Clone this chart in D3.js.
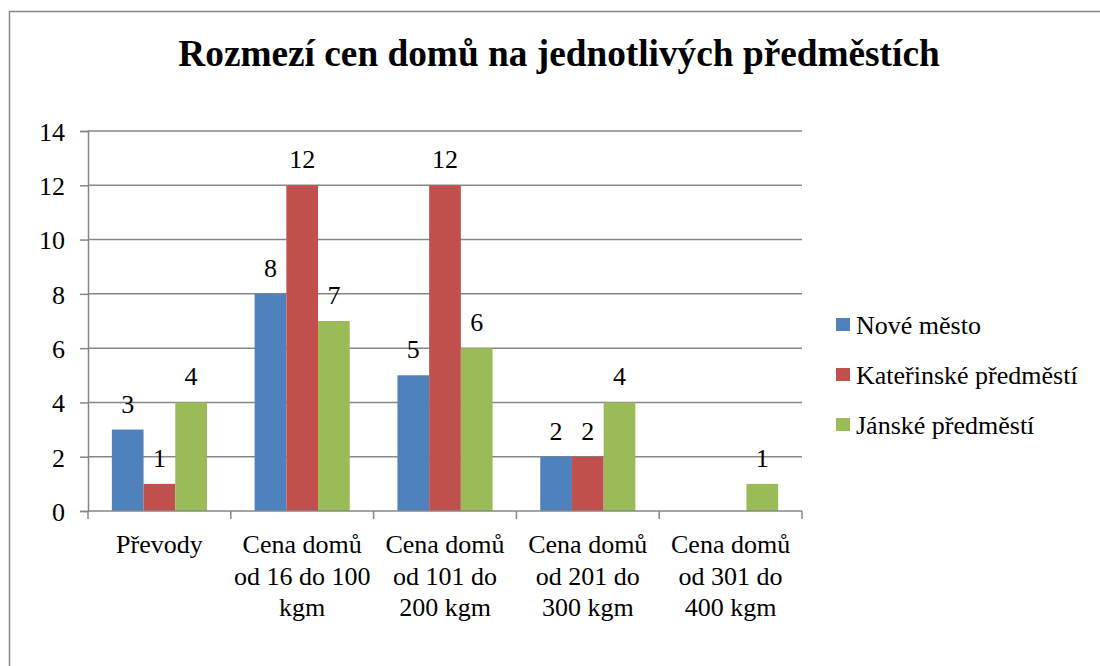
<!DOCTYPE html>
<html>
<head>
  <meta charset="utf-8">
  <script src="https://cdn.jsdelivr.net/npm/d3@7"></script>
  <style>
    html, body { margin:0; padding:0; background:#fff; }
    svg { display:block; }
    text { font-family: "Liberation Serif", "Times New Roman", serif; fill:#000; }
  </style>
  <title>Rozmezí cen domů</title>
</head>
<body>
<div id="chart"></div>
<script>
    // data
    var categories = [
        ["Převody"],
        ["Cena domů", "od 16 do 100", "kgm"],
        ["Cena domů", "od 101 do", "200 kgm"],
        ["Cena domů", "od 201 do", "300 kgm"],
        ["Cena domů", "od 301 do", "400 kgm"]
    ];
    var seriesNames = ["Nové město", "Kateřinské předměstí", "Jánské předměstí"];
    var seriesColors = ["#4F81BD", "#C0504D", "#9BBB59"];
    var noveMesto = [3, 8, 5, 2, null];
    var katerinske = [1, 12, 12, 2, null];
    var janske = [4, 7, 6, 4, 1];
    var yTicks = [0, 2, 4, 6, 8, 10, 12, 14];

    var series = [noveMesto, katerinske, janske];

    var W = 1100, H = 666;
    var svg = d3.select("#chart").append("svg").attr("width", W).attr("height", H);

    // chart border (runs off right and bottom like the original)
    svg.append("rect")
        .attr("x", 9.5).attr("y", 11.5)
        .attr("width", 1100).attr("height", 700)
        .style("fill", "none").style("stroke", "#868686").style("stroke-width", 1.5);

    svg.append("text")
        .attr("x", 559).attr("y", 66)
        .attr("text-anchor", "middle")
        .style("font-weight", "bold").style("font-size", "37.3px")
        .text("Rozmezí cen domů na jednotlivých předměstích");

    var plotLeft = 88, plotRight = 802, plotTop = 131, plotBottom = 511;

    var x = d3.scaleBand().domain(d3.range(categories.length)).range([plotLeft, plotRight]);
    var y = d3.scaleLinear().domain([0, 14]).range([plotBottom, plotTop]);
    var bw = x.bandwidth() * 0.222;

    // gridlines
    svg.append("g").selectAll("line").data(yTicks.slice(1)).enter().append("line")
        .attr("x1", plotLeft).attr("x2", plotRight)
        .attr("y1", function(d){ return y(d); }).attr("y2", function(d){ return y(d); })
        .style("stroke", "#868686").style("stroke-width", 1.5);

    // y axis
    var yAxis = svg.append("g").attr("transform", "translate(" + plotLeft + ",0)")
        .call(d3.axisLeft(y).tickValues(yTicks).tickSize(8).tickPadding(15));
    yAxis.select(".domain").style("stroke", "#868686").style("stroke-width", 1.5);
    yAxis.selectAll(".tick line").style("stroke", "#868686").style("stroke-width", 1.5);
    yAxis.selectAll("text").style("font-size", "26px").style("font-family", "Liberation Serif").attr("dy", "0.36em");

    // bars + data labels
    series.forEach(function(vals, si) {
        var g = svg.append("g");
        var data = vals.map(function(v, i){ return {i: i, v: v}; }).filter(function(d){ return d.v !== null; });
        g.selectAll("rect").data(data).enter().append("rect")
            .attr("x", function(d){ return x(d.i) + (x.bandwidth() - 3 * bw) / 2 + si * bw; })
            .attr("y", function(d){ return y(d.v); })
            .attr("width", bw)
            .attr("height", function(d){ return y(0) - y(d.v); })
            .style("fill", seriesColors[si]);
        g.selectAll("text").data(data).enter().append("text")
            .attr("x", function(d){ return x(d.i) + (x.bandwidth() - 3 * bw) / 2 + si * bw + bw / 2; })
            .attr("y", function(d){ return y(d.v) - 17; })
            .attr("text-anchor", "middle")
            .style("font-size", "26px")
            .text(function(d){ return d.v; });
    });

    // x axis
    svg.append("line")
        .attr("x1", plotLeft).attr("x2", plotRight).attr("y1", plotBottom).attr("y2", plotBottom)
        .style("stroke", "#868686").style("stroke-width", 1.5);
    var xTickPos = d3.range(categories.length + 1).map(function(i){ return plotLeft + i * x.step(); });
    svg.append("g").selectAll("line").data(xTickPos).enter().append("line")
        .attr("x1", function(d){ return d; }).attr("x2", function(d){ return d; })
        .attr("y1", plotBottom).attr("y2", plotBottom + 8)
        .style("stroke", "#868686").style("stroke-width", 1.5);

    var lab = svg.append("g").selectAll("text").data(categories).enter().append("text")
        .attr("text-anchor", "middle")
        .style("font-size", "26px");
    lab.each(function(lines, i) {
        var t = d3.select(this);
        lines.forEach(function(line, j) {
            t.append("tspan")
                .attr("x", x(i) + x.bandwidth() / 2)
                .attr("y", 553 + j * 31.5)
                .text(line);
        });
    });

    // legend
    var leg = svg.append("g").selectAll("g").data(seriesNames).enter().append("g")
        .attr("transform", function(d, i){ return "translate(836," + (325 + i * 50) + ")"; });
    leg.append("rect").attr("x", 0).attr("y", -7).attr("width", 14).attr("height", 13)
        .style("fill", function(d, i){ return seriesColors[i]; });
    leg.append("text").attr("x", 20).attr("y", 0).attr("dy", "0.35em")
        .style("font-size", "26px")
        .text(function(d){ return d; });
</script>
</body>
</html>
